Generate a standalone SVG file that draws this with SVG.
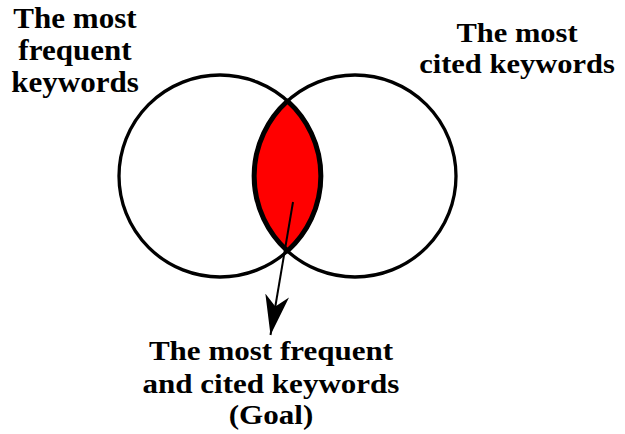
<svg xmlns="http://www.w3.org/2000/svg" width="625" height="434" viewBox="0 0 625 434">
<style>
.t{font-family:"Liberation Serif","Times New Roman",serif;font-weight:bold;fill:#000;text-anchor:middle}
.c{fill:none;stroke:#000;stroke-width:3.3}
</style>
<defs>
<marker id="ah" markerUnits="userSpaceOnUse" viewBox="0 0 40 24" markerWidth="40" markerHeight="24" refX="40" refY="12" orient="auto">
<path d="M0,0 L40,12 L0,24 L11,12 Z" fill="#000"/>
</marker>
</defs>
<rect width="625" height="434" fill="#fff"/>
<g id="left-set"><circle class="c" cx="220" cy="176" r="101"/></g>
<g id="right-set"><circle class="c" cx="355" cy="176" r="101"/></g>
<g id="intersection"><path d="M287.5,101 A101,101 0 0,1 287.5,251 A101,101 0 0,1 287.5,101 Z" fill="#ff0000" stroke="#000" stroke-width="5" stroke-linejoin="round"/></g>
<g id="connectors"><line x1="293" y1="202" x2="270.5" y2="335" stroke="#000" stroke-width="2" marker-end="url(#ah)"/></g>
<g id="label-left" transform="translate(75,0) scale(1.09,1)"><text class="t" font-size="28.5"><tspan x="0" y="28">The most</tspan><tspan x="0" y="60">frequent</tspan><tspan x="0" y="92">keywords</tspan></text></g>
<g id="label-right" transform="translate(517,0) scale(1.09,1)"><text class="t" font-size="28"><tspan x="0" y="42">The most</tspan><tspan x="0" y="73">cited keywords</tspan></text></g>
<g id="label-goal" transform="translate(271,0) scale(1.15,1)"><text class="t" font-size="27"><tspan x="0" y="360">The most frequent</tspan><tspan x="0" y="393">and cited keywords</tspan><tspan x="0" y="424">(Goal)</tspan></text></g>
</svg>
